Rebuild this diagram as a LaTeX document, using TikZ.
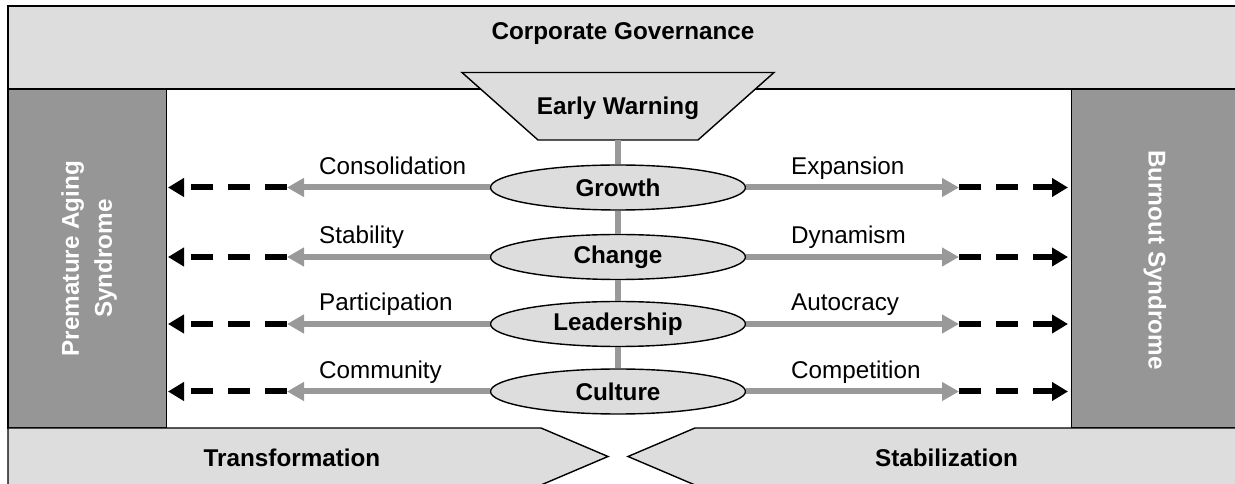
\documentclass[tikz,border=0pt]{standalone}
\usepackage{fontspec}
\setmainfont{Liberation Sans}
\usepackage{tikz}
\usetikzlibrary{shapes,arrows.meta,calc,positioning}

\definecolor{lightband}{HTML}{DDDDDD}
\definecolor{darkbox}{HTML}{969696}
\definecolor{greyline}{HTML}{999999}

\newcommand{\labelsize}{\fontsize{13.8}{18.8}\selectfont}

\tikzset{
	band/.style={fill=lightband, draw=black, line width=0.8pt},
	side/.style={fill=darkbox, draw=black, line width=0.8pt},
	phase/.style={ellipse, fill=lightband, draw=black, line width=0.8pt, minimum width=5.1cm, minimum height=0.9cm, inner sep=0pt, font=\labelsize\bfseries},
	spine/.style={draw=greyline, line width=0.12cm},
	trend/.style={draw=greyline, line width=0.12cm, -{Triangle[length=0.34cm,width=0.36cm]}},
	excess/.style={draw=black, line width=0.12cm, dash pattern=on 0.44cm off 0.3cm, -{Triangle[length=0.32cm,width=0.36cm]}},
	lbl/.style={anchor=base west},
	sidetext/.style={text=white, align=center, font=\labelsize\bfseries},
}

\begin{document}
\begin{tikzpicture}[font=\labelsize]
	\useasboundingbox (0,0) rectangle (24.7,-9.68);
	% frame: bands and side boxes
	\draw[band] (0.16,-0.12) rectangle (25,-1.78);
	\draw[side] (0.16,-1.78) rectangle (3.33,-8.56);
	\draw[side] (21.43,-1.78) rectangle (25,-8.56);
	\draw[band] (0.16,-8.56) -- (10.82,-8.56) -- (12.16,-9.13) -- (10.82,-9.70) -- (0.16,-9.70) -- cycle;
	\draw[band] (25,-8.56) -- (13.90,-8.56) -- (12.56,-9.13) -- (13.90,-9.70) -- (25,-9.70) -- cycle;
	\draw[band] (9.24,-1.45) -- (15.48,-1.45) -- (13.96,-2.8) -- (10.76,-2.8) -- cycle;

 	\node (1) at (12.46,-0.68) {\textbf{Corporate Governance}};
 	\node (2) [minimum height=1.28cm] at (12.36,-2.16) {\textbf{Early Warning}};

	\node[phase] (3) at (12.36,-3.75) {Growth};
	\node[phase] (4) at (12.36,-5.14) {Change};
	\node[phase] (5) at (12.36,-6.48) {Leadership};
	\node[phase] (6) at (12.36,-7.83) {Culture};

	\node[sidetext, rotate=90] (7) at (1.78,-5.17) {Premature Aging\\Syndrome};
	\node[sidetext, rotate=-90] (8) at (23.1,-5.2) {Burnout Syndrome};

	\node (9) at (5.84,-9.16) {\textbf{Transformation}};
	\node (10) at (18.93,-9.15) {\textbf{Stabilization}};

	% arrow ends, left side
	\coordinate (21) at (5.74,-3.75);
	\coordinate (22) at (5.74,-5.14);
	\coordinate (23) at (5.74,-6.48);
	\coordinate (24) at (5.74,-7.83);
	\coordinate (31) at (3.36,-3.75);
	\coordinate (32) at (3.36,-5.14);
	\coordinate (33) at (3.36,-6.48);
	\coordinate (34) at (3.36,-7.83);
	% arrow ends, right side
	\coordinate (41) at (19.18,-3.75);
	\coordinate (42) at (19.18,-5.14);
	\coordinate (43) at (19.18,-6.48);
	\coordinate (44) at (19.18,-7.83);
	\coordinate (51) at (21.36,-3.75);
	\coordinate (52) at (21.36,-5.14);
	\coordinate (53) at (21.36,-6.48);
	\coordinate (54) at (21.36,-7.83);

	\path (2.south) edge[spine] (3);
	\path (3) edge[spine] (4);
	\path (4) edge[spine] (5);
	\path (5) edge[spine] (6);

	\path (3) edge[trend] (21) (21) edge[excess] (31);
	\path (4) edge[trend] (22) (22) edge[excess] (32);
	\path (5) edge[trend] (23) (23) edge[excess] (33);
	\path (6) edge[trend] (24) (24) edge[excess] (34);
	\path (3) edge[trend] (41) (41) edge[excess] (51);
	\path (4) edge[trend] (42) (42) edge[excess] (52);
	\path (5) edge[trend] (43) (43) edge[excess] (53);
	\path (6) edge[trend] (44) (44) edge[excess] (54);

	\node[lbl] (11) at (6.26,-3.49) {Consolidation};
	\node[lbl] (12) at (6.26,-4.88) {Stability};
	\node[lbl] (13) at (6.26,-6.22) {Participation};
	\node[lbl] (14) at (6.26,-7.57) {Community};
	\node[lbl] (15) at (15.70,-3.49) {Expansion};
	\node[lbl] (16) at (15.70,-4.88) {Dynamism};
	\node[lbl] (17) at (15.70,-6.22) {Autocracy};
	\node[lbl] (18) at (15.70,-7.57) {Competition};
\end{tikzpicture}
\end{document}
